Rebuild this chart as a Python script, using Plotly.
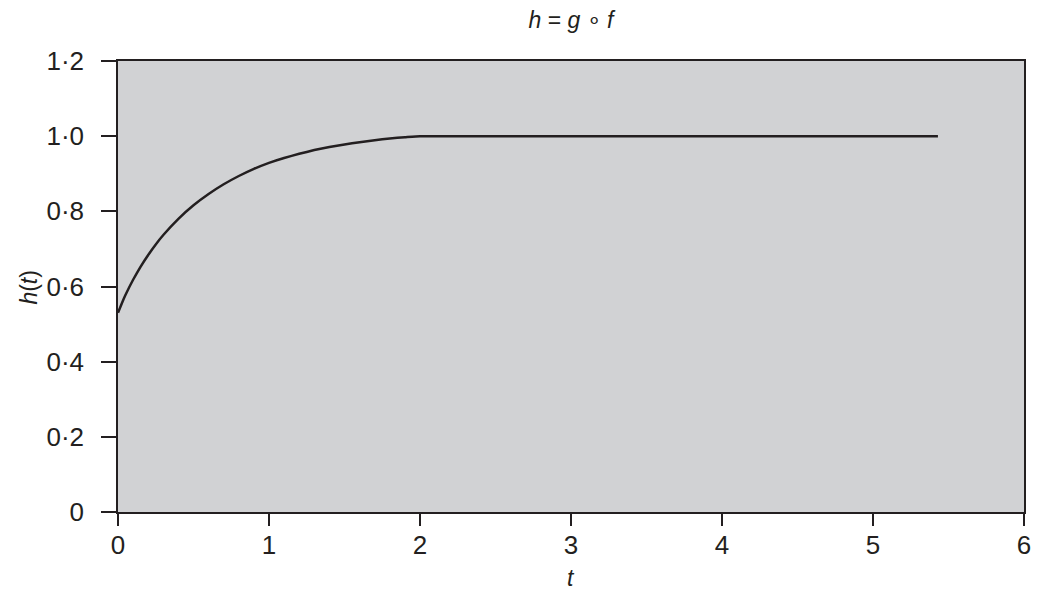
import plotly.graph_objects as go

# values
t_vals = [0, 0.025, 0.05, 0.1, 0.15, 0.2, 0.25, 0.3, 0.4, 0.5, 0.6, 0.7, 0.8, 0.9, 1.0,
          1.1, 1.2, 1.3, 1.4, 1.5, 1.6, 1.7, 1.8, 1.9, 2.0, 5.43]
h_vals = [0.53, 0.555, 0.578, 0.618, 0.653, 0.684, 0.712, 0.737, 0.78, 0.816, 0.846, 0.872,
          0.894, 0.913, 0.929, 0.942, 0.953, 0.963, 0.971, 0.978, 0.984, 0.989, 0.994,
          0.997, 1.0, 1.0]

y_ticks = [0, 0.2, 0.4, 0.6, 0.8, 1.0, 1.2]
y_labels = ["0", "0·2", "0·4", "0·6", "0·8", "1·0", "1·2"]
x_ticks = [0, 1, 2, 3, 4, 5, 6]

ink = "#231f20"

fig = go.Figure()
fig.add_trace(go.Scatter(
    x=t_vals, y=h_vals, mode="lines",
    line=dict(color=ink, width=2.5, shape="spline", smoothing=0.3),
    showlegend=False,
))

fig.update_layout(
    width=1039, height=590,
    margin=dict(l=110, r=23, t=53, b=86),
    paper_bgcolor="white",
    plot_bgcolor="#d1d2d4",
    font=dict(family="Liberation Sans, Arial, sans-serif", size=26, color=ink),
    title=dict(text="<i>h</i> = <i>g</i> ∘ <i>f</i>", x=0.5, xref="paper",
               y=0.98, yanchor="middle", font=dict(size=23)),
)

# axis titles placed as annotations to sit where the reference has them
fig.add_annotation(text="<i>h</i>(<i>t</i>)", xref="paper", yref="paper", x=-0.098, y=0.498,
                   textangle=-90, showarrow=False, xanchor="center", yanchor="middle",
                   font=dict(size=23))
fig.add_annotation(text="<i>t</i>", xref="paper", yref="paper", x=0.5, y=-0.147,
                   showarrow=False, xanchor="center", yanchor="middle", font=dict(size=23))

fig.update_xaxes(
    range=[0, 6], tickvals=x_ticks, ticks="outside", ticklen=12, tickwidth=1.5,
    tickcolor=ink, showline=True, linecolor=ink, linewidth=1.5, mirror=True,
    showgrid=False, zeroline=False, tickfont=dict(size=26), ticklabelstandoff=-3,
)
fig.update_yaxes(
    range=[0, 1.2], tickvals=y_ticks, ticktext=y_labels, ticks="outside", ticklen=15,
    tickwidth=1.5, tickcolor=ink, showline=True, linecolor=ink, linewidth=1.5, mirror=True,
    showgrid=False, zeroline=False, tickfont=dict(size=26), ticklabelstandoff=12,
)

fig.write_html("out.html")
